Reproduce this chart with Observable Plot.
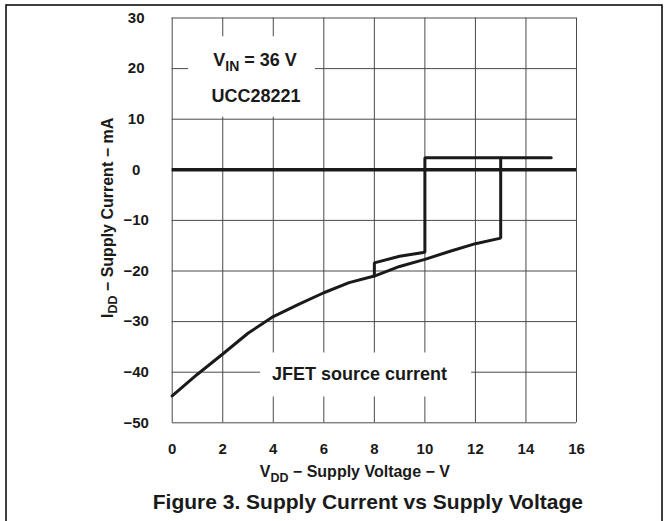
<!DOCTYPE html>
<html>
<head>
<meta charset="utf-8">
<script src="https://cdn.jsdelivr.net/npm/d3@7"></script>
<script src="https://cdn.jsdelivr.net/npm/@observablehq/plot@0.6"></script>
<style>
  html, body { margin: 0; padding: 0; background: #fff; }
  #chart { width: 669px; height: 521px; }
</style>
</head>
<body>
<div id="chart"></div>
<script>
// ---- data ----
const xTicks = [0, 2, 4, 6, 8, 10, 12, 14, 16];
const yTicks = [30, 20, 10, 0, -10, -20, -30, -40, -50];

// rising VDD sweep (JFET source current, then turn-on at 13 V)
const vddRise = [0, 1, 2, 3, 4, 5, 6, 7, 8, 9, 10, 11, 12, 13, 13, 15];
const iddRise = [-44.7, -40.4, -36.4, -32.3, -29.0, -26.6, -24.3, -22.3, -21.0, -19.1, -17.7, -16.1, -14.6, -13.5, 2.4, 2.4];

// falling VDD sweep (turn-off at 10 V, back to curve at 8 V)
const vddFall = [13, 10, 10, 9, 8, 8];
const iddFall = [2.4, 2.4, -16.3, -17.1, -18.4, -21.0];

const zeroLine = [0];

// annotation texts and the white boxes behind them (data units)
const noteText = ["VIN = 36 V", "UCC28221", "JFET source current"];
const noteX = [3.28, 3.32, 7.41];
const noteY = [21.7, 14.6, -40.4];
const boxX1 = [0.65, 3.5];
const boxX2 = [5.67, 11.85];
const boxY1 = [26.3, -36.2];
const boxY2 = [10.4, -44.9];

const xTitle = ["V", "DD", " − Supply Voltage − V"];
const yTitle = ["I", "DD", " − Supply Current − mA"];
const caption = "Figure 3. Supply Current vs Supply Voltage";

// ---- tables ----
const rise = vddRise.map((v, i) => ({v, i: iddRise[i]}));
const fall = vddFall.map((v, i) => ({v, i: iddFall[i]}));
const notes = noteText.map((t, k) => ({t, x: noteX[k], y: noteY[k]}));
const boxes = boxX1.map((x1, k) => ({x1, x2: boxX2[k], y1: boxY1[k], y2: boxY2[k]}));

const FONT = "'Liberation Sans', Arial, Helvetica, sans-serif";
const INK = "#1a1a1a";

const W = 669, H = 521;
const mL = 171.7, mR = 93, mT = 17.5, mB = 98.7;

const plot = Plot.plot({
  width: W,
  height: H,
  marginLeft: mL,
  marginRight: mR,
  marginTop: mT,
  marginBottom: mB,
  style: {fontFamily: FONT, background: "#fff", color: INK, overflow: "visible"},
  x: {domain: [0, 16]},
  y: {domain: [-50, 30]},
  marks: [
    Plot.gridX(xTicks, {stroke: "#4a4a4a", strokeOpacity: 1, strokeWidth: 1}),
    Plot.gridY(yTicks, {stroke: "#4a4a4a", strokeOpacity: 1, strokeWidth: 1}),
    Plot.rect(boxes, {x1: "x1", x2: "x2", y1: "y1", y2: "y2", fill: "#fff"}),
    Plot.ruleY(zeroLine, {stroke: INK, strokeWidth: 3.5}),
    Plot.line(rise, {x: "v", y: "i", stroke: INK, strokeWidth: 3, strokeLinejoin: "miter"}),
    Plot.line(fall, {x: "v", y: "i", stroke: INK, strokeWidth: 3, strokeLinejoin: "miter"}),
    Plot.text(notes, {x: "x", y: "y", text: "t", fontSize: 18, fontWeight: "bold", fill: INK, lineAnchor: "middle", className: "notes"}),
    Plot.axisX({ticks: xTicks, tickSize: 0, tickPadding: 21, fontSize: 15, fontWeight: "bold", label: null}),
    Plot.axisY({ticks: yTicks, tickSize: 0, tickPadding: 36, textAnchor: "middle", fontSize: 15, fontWeight: "bold", label: null})
  ]
});

document.getElementById("chart").appendChild(plot);

const svg = d3.select(plot);

// subscript in the VIN note
svg.selectAll("g.notes text").each(function() {
  const el = d3.select(this);
  if (el.text() === "VIN = 36 V") {
    el.text("");
    el.append("tspan").text("V");
    el.append("tspan").attr("font-size", 14).attr("dy", 5).text("IN");
    el.append("tspan").attr("dy", -5).text(" = 36 V");
  }
});

function subText(g, parts, size) {
  g.append("tspan").text(parts[0]);
  g.append("tspan").attr("font-size", size * 0.78).attr("dy", size * 0.28).text(parts[1]);
  g.append("tspan").attr("dy", -size * 0.28).text(parts[2]);
}

const xs = plot.scale("x"), ys = plot.scale("y");
const plotLeft = xs.range[0], plotRight = xs.range[1];
const plotBottom = ys.range[0], plotTop = ys.range[1];

const xt = svg.append("text")
  .attr("x", (plotLeft + plotRight) / 2 - 19)
  .attr("y", plotBottom + 55)
  .attr("text-anchor", "middle")
  .attr("font-family", FONT).attr("font-weight", "bold").attr("font-size", 16)
  .attr("fill", INK);
subText(xt, xTitle, 16);

const yt = svg.append("text")
  .attr("transform", `translate(${plotLeft - 59},${(plotTop + plotBottom) / 2 - 2}) rotate(-90)`)
  .attr("text-anchor", "middle")
  .attr("font-family", FONT).attr("font-weight", "bold").attr("font-size", 16)
  .attr("fill", INK);
subText(yt, yTitle, 16);

svg.append("text")
  .attr("x", (plotLeft + plotRight) / 2 - 6)
  .attr("y", plotBottom + 87)
  .attr("text-anchor", "middle")
  .attr("font-family", FONT).attr("font-weight", "bold").attr("font-size", 21)
  .attr("fill", INK)
  .text(caption);

// page frame around the figure
svg.append("path")
  .attr("d", `M6,${H} V5 H662 V${H}`)
  .attr("fill", "none").attr("stroke", "#000").attr("stroke-width", 1.5);
</script>
</body>
</html>
